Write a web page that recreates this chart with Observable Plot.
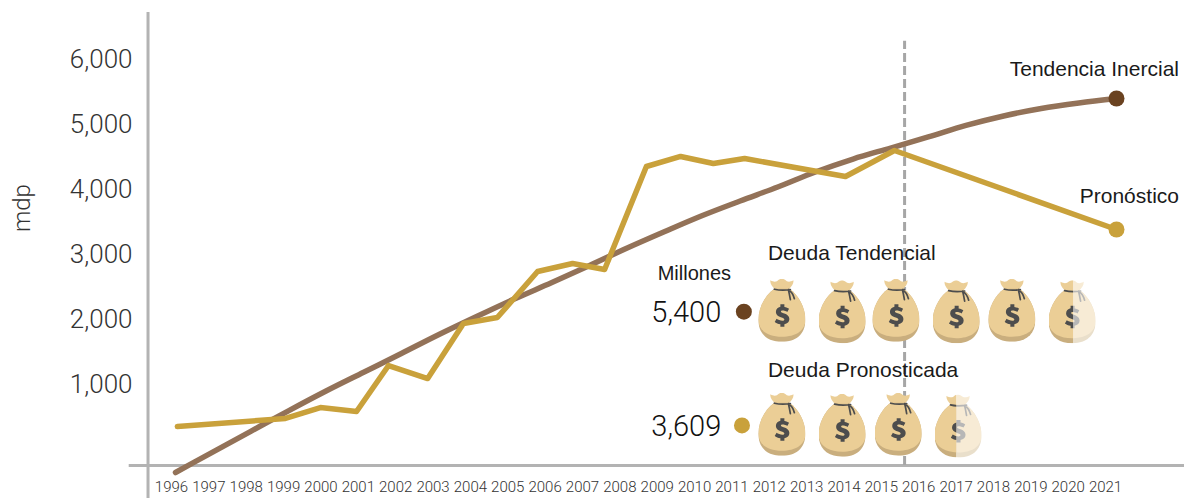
<!DOCTYPE html>
<html lang="es">
<head>
<meta charset="utf-8">
<script src="https://cdn.jsdelivr.net/npm/d3@7"></script>
<script src="https://cdn.jsdelivr.net/npm/@observablehq/plot@0.6"></script>
<style>
html,body{margin:0;padding:0;background:#fff;overflow:hidden}
svg{display:block}
</style>
</head>
<body>
<div id="chart"></div>
<script>
const years = d3.range(1996, 2022);
const trendValues = [-354,-37,280,595,900,1189,1477,1769,2046,2315,2569,2831,3100,3354,3600,3823,4038,4269,4469,4638,4808,4985,5131,5246,5331,5400];
const forecastPositions = [1996.05,1998.92,1999.85,2000.81,2001.66,2002.70,2003.65,2004.55,2005.62,2006.55,2007.40,2008.51,2009.42,2010.29,2011.12,2013.80,2015.10,2021];
const forecastValues = [354,477,646,585,1292,1092,1938,2031,2738,2862,2769,4354,4508,4400,4477,4200,4600,3385];
const yTicks = [1000,2000,3000,4000,5000,6000];
const bagsTrendX = [2012.11,2013.71,2015.14,2016.74,2018.22,2019.82];
const bagsTrendY = [2143,2120,2143,2120,2143,2120];
const bagsForecastX = [2012.11,2013.71,2015.2,2016.79];
const bagsForecastY = [389,374,389,363];
const fractionTrend = 0.52, fractionForecast = 0.46;

const LIGHT = "Roboto, 'Liberation Sans', sans-serif";
const SANS = "'Liberation Sans', sans-serif";
const AXIS = "#b3b3b3", BROWN = "#937258", GOLD = "#c9a13b", DARK = "#6a4220";

function uri(s){ return "data:image/svg+xml;charset=utf-8," + encodeURIComponent(s); }
function bagSvg(fraction) {
  const art = `
  <path d="M12 1.500c3 1.600 4.500 1.800 6.500 1c2-1.600 3.500-2.500 5-2.500s3 .9 5 2.500c2 .8 3.500.6 6.500-1c.6 2.600-1.500 6-4.500 9h-14c-3-3-5.100-6.400-4.500-9z" fill="#ebce96"/>
  <path d="M16 10h15c9 6 16 19 16 31c0 15-10 22-23.500 22S0 56 0 41C0 29 7 16 16 10z" fill="#c9ae7e"/>
  <path d="M16 10h15c9 6 16 19 16 31c0 11-10 17-23.500 17S0 52 0 41C0 29 7 16 16 10z" fill="#ebce96"/>
  <path d="M16 10.500c5 1.200 11 1.200 16 .3M30 11c2.500 1.500 5 5 6 9M30 11c.8 3 1.500 7 2 10" fill="none" stroke="#4d4d4d" stroke-width="1.700" stroke-linecap="round"/>
  <path d="M22 25.500h4v2.700c2 .3 3.500.9 4.700 1.800l-1.800 3.200c-2-1.300-6.400-2.200-6.400-.3c0 2 8.500 1.700 8.500 7.500c0 2.900-2 4.700-5 5.200V48h-4v-2.400c-2.300-.3-4.200-1-5.700-2.300l1.900-3.200c2.200 1.700 7.800 2.900 7.800.6c0-2.400-8.500-1.800-8.500-7.500c0-2.700 1.800-4.600 4.500-5.200z" fill="#4d4d4d"/>`;
  if (fraction >= 1) return uri(`<svg xmlns="http://www.w3.org/2000/svg" viewBox="0 0 47 63">${art}</svg>`);
  const cut = 47 * fraction;
  return uri(`<svg xmlns="http://www.w3.org/2000/svg" viewBox="0 0 47 63"><defs><clipPath id="l"><rect width="${cut}" height="63"/></clipPath><clipPath id="r"><rect x="${cut}" width="${47 - cut}" height="63"/></clipPath></defs><g clip-path="url(#l)">${art}</g><g clip-path="url(#r)" opacity="0.4">${art}</g></svg>`);
}

const bags = [
  ...bagsTrendX.map((x,i)=>({x, y:bagsTrendY[i], f:i===bagsTrendX.length-1?fractionTrend:1})),
  ...bagsForecastX.map((x,i)=>({x, y:bagsForecastY[i], f:i===bagsForecastX.length-1?fractionForecast:1}))
];
const trend = years.map((year,i)=>({year, value:trendValues[i]}));
const forecast = forecastPositions.map((year,i)=>({year, value:forecastValues[i]}));
const labelX = y => 1996 + (y-1996)*0.9926 - 0.106;

const chart = Plot.plot({
  width:1184, height:498,
  marginLeft:175, marginRight:68, marginTop:59, marginBottom:49,
  style:{background:"#fff", overflow:"visible"},
  x:{domain:[1996,2021], range:[175,1116], axis:null},
  y:{domain:[0,6000], range:[449,59], axis:null},
  marks:[
    Plot.ruleX([1995.27],{y1:-754, y2:6723, stroke:AXIS, strokeWidth:3}),
    Plot.ruleY([-246],{x1:1994.77, x2:2029.1, stroke:AXIS, strokeWidth:3}),
    Plot.ruleX([2015.37],{y1:-246, y2:6280, stroke:"#a6a6a6", strokeWidth:3, strokeDasharray:"9 4"}),
    Plot.axisY({ticks:yTicks, tickSize:0, tickPadding:43, tickFormat:d3.format(","), label:null, fontSize:26, fontWeight:300, fontFamily:LIGHT, fill:"#333"}),
    Plot.text(years,{x:labelX, y:()=>-585, text:d=>String(d), fontSize:15, fontWeight:300, fontFamily:LIGHT, fill:"#333", letterSpacing:"-0.5px"}),
    Plot.text(["mdp"],{x:()=>1991.94, y:()=>3715, text:d=>d, rotate:-90, fontSize:24, fontWeight:300, fontFamily:LIGHT, fill:"#333"}),
    Plot.line(trend,{x:"year", y:"value", stroke:BROWN, strokeWidth:5.5, strokeLinecap:"round", curve:"monotone-x"}),
    Plot.line(forecast,{x:"year", y:"value", stroke:GOLD, strokeWidth:5.5, strokeLinecap:"round", curve:"linear"}),
    Plot.dot([trend[trend.length-1]],{x:"year", y:"value", r:8, fill:DARK}),
    Plot.dot([forecast[forecast.length-1]],{x:"year", y:"value", r:8, fill:GOLD}),
    Plot.image(bags,{x:"x", y:"y", src:d=>bagSvg(d.f), width:47, height:63}),
    Plot.text(["Tendencia Inercial"],{x:()=>2022.66, y:()=>5850, text:d=>d, textAnchor:"end", fontSize:21, fontFamily:SANS, fill:"#1a1a1a", letterSpacing:"-0.15px"}),
    Plot.text(["Pronóstico"],{x:()=>2022.66, y:()=>3890, text:d=>d, textAnchor:"end", fontSize:21, fontFamily:SANS, fill:"#1a1a1a"}),
    Plot.text(["Deuda Tendencial"],{x:()=>2011.74, y:()=>3020, text:d=>d, textAnchor:"start", fontSize:21, fontFamily:SANS, fill:"#1a1a1a", letterSpacing:"-0.1px"}),
    Plot.text(["Deuda Pronosticada"],{x:()=>2011.74, y:()=>1225, text:d=>d, textAnchor:"start", fontSize:21, fontFamily:SANS, fill:"#1a1a1a", letterSpacing:"-0.2px"}),
    Plot.text(["Millones"],{x:()=>2008.81, y:()=>2705, text:d=>d, textAnchor:"start", fontSize:20, fontFamily:SANS, fill:"#1a1a1a"}),
    Plot.text(["5,400"],{x:()=>2010.5, y:()=>2110, text:d=>d, textAnchor:"end", fontSize:29, fontWeight:300, fontFamily:LIGHT, fill:"#111"}),
    Plot.text(["3,609"],{x:()=>2010.5, y:()=>350, text:d=>d, textAnchor:"end", fontSize:29, fontWeight:300, fontFamily:LIGHT, fill:"#111"}),
    Plot.dot([0],{x:()=>2011.1, y:()=>2120, r:8, fill:DARK}),
    Plot.dot([0],{x:()=>2011.05, y:()=>370, r:8, fill:GOLD})
  ]
});
document.getElementById("chart").append(chart);
</script>
</body>
</html>
